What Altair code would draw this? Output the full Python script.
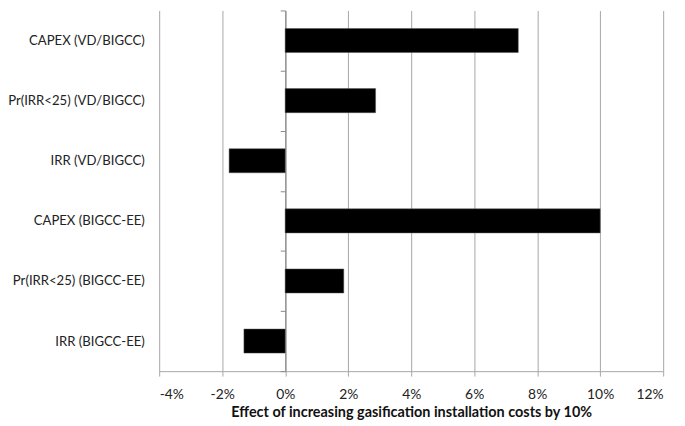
import altair as alt
import pandas as pd

categories = [
    "CAPEX (VD/BIGCC)",
    "Pr(IRR<25)  (VD/BIGCC)",
    "IRR (VD/BIGCC)",
    "CAPEX (BIGCC-EE)",
    "Pr(IRR<25)  (BIGCC-EE)",
    "IRR (BIGCC-EE)",
]
values = [7.4, 2.87, -1.78, 10.0, 1.86, -1.31]
x_ticks = [-4, -2, 0, 2, 4, 6, 8, 10, 12]

df = pd.DataFrame({"measure": categories, "effect": values})

FONT = "Lato"

chart = (
    alt.Chart(df)
    .mark_bar(color="black", height=alt.RelativeBandSize(0.4), stroke="#555", strokeWidth=0.5)
    .encode(
        x=alt.X(
            "effect:Q",
            scale=alt.Scale(domain=[-4, 12], nice=False, zero=False),
            axis=alt.Axis(
                values=x_ticks,
                labelExpr="datum.value + '%'",
                title="Effect of increasing gasification installation costs by 10%",
                grid=True,
                gridColor="#a6a6a6",
                domainColor="#a6a6a6",
                tickColor="#a6a6a6",
                tickSize=5,
                labelFontSize=14,
                labelColor="#222",
                labelPadding=12,
                labelFont=FONT,
                titleFont=FONT,
                titleFontSize=14.6,
                titleFontWeight="bold",
                titleColor="#111",
                titlePadding=3,
            ),
        ),
        y=alt.Y(
            "measure:N",
            sort=categories,
            scale=alt.Scale(paddingInner=0, paddingOuter=0),
            axis=alt.Axis(
                title=None,
                offset=-127.5,
                tickBand="extent",
                grid=False,
                domainColor="#888",
                tickColor="#888",
                tickSize=5,
                labelPadding=137.5,
                labelFontSize=13.3,
                labelFont=FONT,
                labelColor="#222",
                labelLimit=0,
            ),
        ),
    )
    .properties(
        width=510,
        height=365,
        padding={"left": 153, "top": 0, "right": 14, "bottom": 52},
        autosize="none",
    )
    .configure_view(stroke=None)
)

chart.save("out.html", embed_options={"renderer": "svg", "actions": False})
